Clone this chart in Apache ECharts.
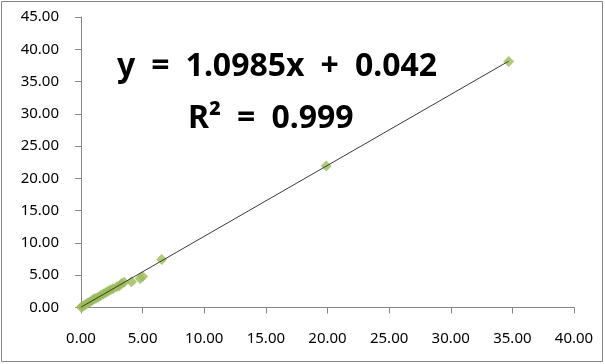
<!DOCTYPE html>
<html>
<head>
<meta charset="utf-8">
<script src="https://cdn.jsdelivr.net/npm/echarts@6/dist/echarts.min.js"></script>
<style>
html,body{margin:0;padding:0;background:#fff;}
#chart{width:605px;height:364px;}
</style>
</head>
<body>
<div id="chart"></div>
<script>
// Data
const xValues = [0.02, 0.1, 0.25, 0.4, 0.55, 0.7, 0.9, 1.05, 1.2, 1.4, 1.6, 1.8, 2.0, 2.2, 2.4, 2.6, 2.9, 3.1, 3.3, 3.5, 4.1, 4.8, 5.0, 6.55, 19.9, 34.7];
const yValues = [0.05, 0.15, 0.3, 0.5, 0.7, 0.85, 1.1, 1.3, 1.45, 1.6, 1.85, 2.1, 2.3, 2.5, 2.75, 2.9, 3.2, 3.35, 3.7, 3.9, 4.0, 4.5, 4.8, 7.45, 21.9, 38.1];
const xTicks = [0, 5, 10, 15, 20, 25, 30, 35, 40];
const yTicks = [0, 5, 10, 15, 20, 25, 30, 35, 40, 45];
const slope = [1.0985];
const intercept = [0.042];
const equationText = ['y = 1.0985x + 0.042'];
const r2Text = ['R² = 0.999'];

const points = xValues.map((x, i) => [x, yValues[i]]);
const xMin = Math.min(...xValues), xMax = Math.max(...xValues);
const trend = [[xMin, slope[0] * xMin + intercept[0]], [xMax, slope[0] * xMax + intercept[0]]];
const wide = s => s.replace(/ /g, '\u2002');

const chart = echarts.init(document.getElementById('chart'), null, {renderer: 'canvas'});
const labelFont = {fontFamily: '"Noto Sans"', fontSize: 15, color: '#000'};
const axisGray = '#868686';
chart.setOption({
  animation: false,
  backgroundColor: '#fff',
  grid: {left: 81, right: 31, top: 17, bottom: 56.5, containLabel: false},
  xAxis: {
    type: 'value', min: xTicks[0], max: xTicks[xTicks.length - 1], interval: xTicks[1] - xTicks[0],
    axisLine: {show: true, onZero: false, lineStyle: {color: axisGray, width: 1}},
    axisTick: {show: true, length: 6, lineStyle: {color: axisGray}},
    splitLine: {show: false},
    axisLabel: Object.assign({margin: 24, formatter: v => v.toFixed(2)}, labelFont)
  },
  yAxis: {
    type: 'value', min: yTicks[0], max: yTicks[yTicks.length - 1], interval: yTicks[1] - yTicks[0],
    axisLine: {show: true, onZero: false, lineStyle: {color: axisGray, width: 1}},
    axisTick: {show: true, length: 6, lineStyle: {color: axisGray}},
    splitLine: {show: false},
    axisLabel: Object.assign({margin: 22, formatter: v => v.toFixed(2)}, labelFont)
  },
  series: [
    {
      type: 'scatter', data: points, symbol: 'diamond', symbolSize: 11,
      itemStyle: {color: '#9BBB59'}, z: 2
    },
    {
      type: 'line', data: trend, symbol: 'none', z: 3,
      lineStyle: {color: '#3a3a3a', width: 1}
    }
  ],
  graphic: [
    {type: 'rect', shape: {x: 1.5, y: 1.5, width: 601, height: 360}, style: {fill: 'none', stroke: axisGray, lineWidth: 1}, silent: true},
    {type: 'text', x: 117, y: 67, style: {text: wide(equationText[0]), font: 'bold 32px "Noto Sans"', fill: '#000', verticalAlign: 'middle', align: 'left'}},
    {type: 'text', x: 188, y: 119, style: {text: wide(r2Text[0]), font: 'bold 32px "Noto Sans"', fill: '#000', verticalAlign: 'middle', align: 'left'}}
  ]
});
</script>
</body>
</html>
